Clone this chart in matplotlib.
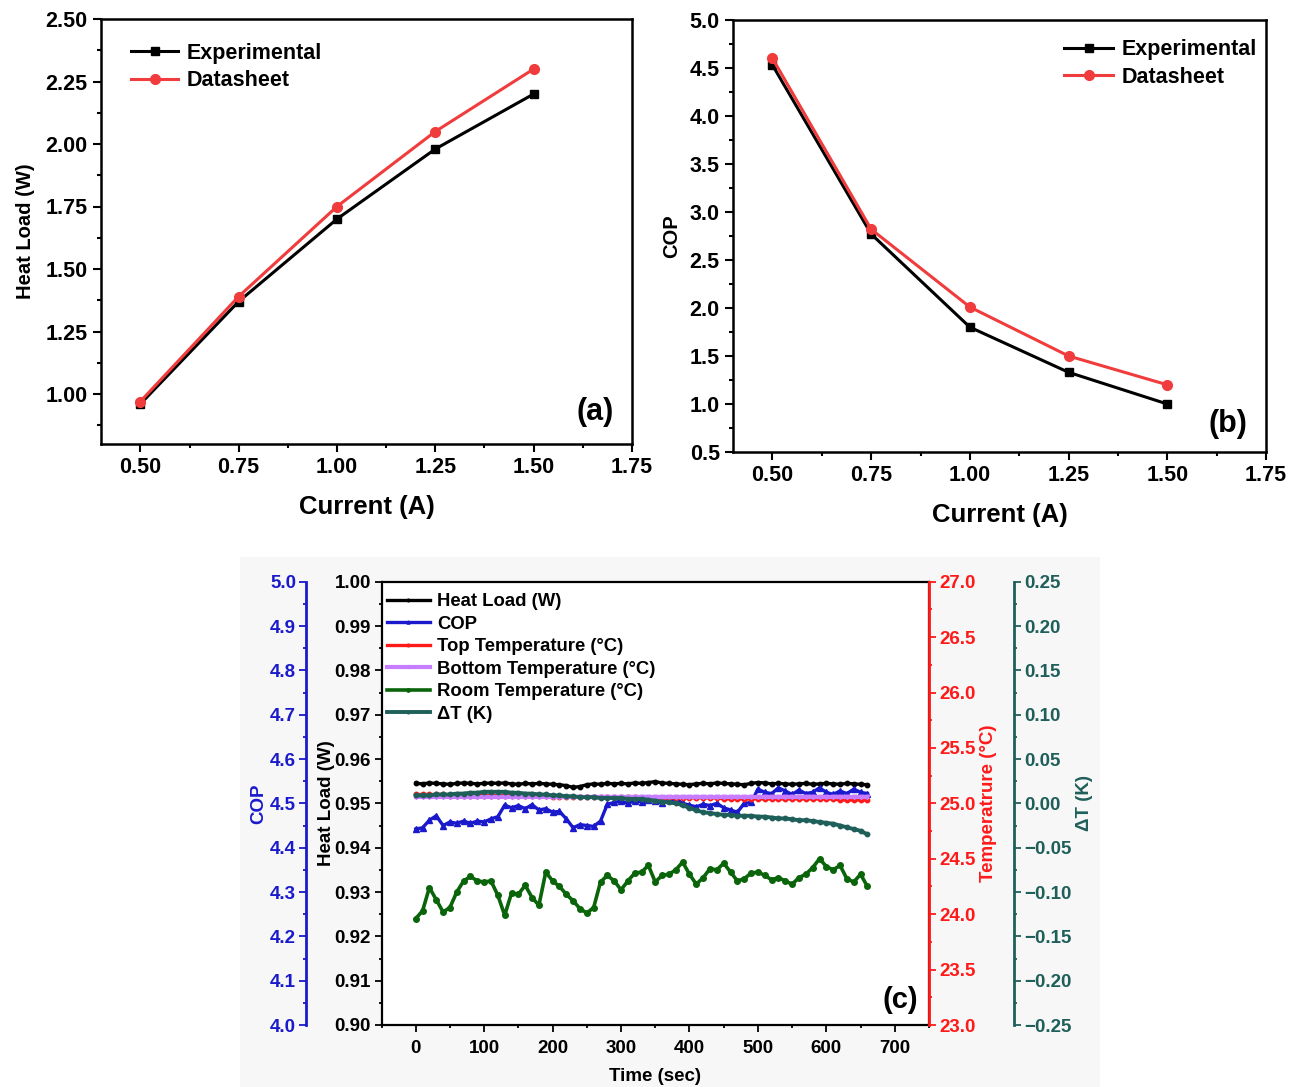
import numpy as np
import matplotlib.pyplot as plt
from matplotlib.ticker import MultipleLocator
from matplotlib.patches import Rectangle

plt.rcParams['font.family'] = ['Liberation Sans', 'DejaVu Sans']
plt.rcParams['font.weight'] = 'bold'
plt.rcParams['axes.labelweight'] = 'bold'

# ---- panel (a)/(b) data ----
current = [0.50, 0.75, 1.00, 1.25, 1.50]
heat_exp = [0.96, 1.37, 1.70, 1.98, 2.20]
heat_ds = [0.97, 1.39, 1.75, 2.05, 2.30]
cop_exp = [4.53, 2.77, 1.80, 1.33, 1.00]
cop_ds = [4.60, 2.82, 2.01, 1.50, 1.20]

# ---- panel (c) data, one sample every 10 s ----
time_s = [0, 10, 20, 30, 40, 50, 60, 70, 80, 90,
          100, 110, 120, 130, 140, 150, 160, 170, 180, 190,
          200, 210, 220, 230, 240, 250, 260, 270, 280, 290,
          300, 310, 320, 330, 340, 350, 360, 370, 380, 390,
          400, 410, 420, 430, 440, 450, 460, 470, 480, 490,
          500, 510, 520, 530, 540, 550, 560, 570, 580, 590,
          600, 610, 620, 630, 640, 650, 660]
heat_load = [0.9545, 0.9544, 0.9546, 0.9545, 0.9544, 0.9543, 0.9545, 0.9546, 0.9545, 0.9544,
             0.9545, 0.9546, 0.9545, 0.9546, 0.9544, 0.9543, 0.9545, 0.9544, 0.9545, 0.9544,
             0.9543, 0.9542, 0.9540, 0.9536, 0.9538, 0.9542, 0.9544, 0.9543, 0.9545, 0.9544,
             0.9545, 0.9544, 0.9546, 0.9545, 0.9547, 0.9549, 0.9546, 0.9545, 0.9544, 0.9543,
             0.9542, 0.9544, 0.9545, 0.9544, 0.9546, 0.9545, 0.9544, 0.9543, 0.9542, 0.9545,
             0.9547, 0.9546, 0.9544, 0.9545, 0.9544, 0.9543, 0.9544, 0.9545, 0.9543, 0.9544,
             0.9545, 0.9544, 0.9543, 0.9545, 0.9544, 0.9543, 0.9542]
cop = [4.442, 4.445, 4.462, 4.472, 4.450, 4.458, 4.455, 4.460, 4.455, 4.460,
       4.458, 4.465, 4.470, 4.496, 4.490, 4.495, 4.488, 4.497, 4.485, 4.488,
       4.480, 4.482, 4.465, 4.445, 4.452, 4.450, 4.448, 4.460, 4.498, 4.502,
       4.505, 4.500, 4.506, 4.503, 4.508, 4.505, 4.500, 4.508, 4.510, 4.500,
       4.496, 4.492, 4.498, 4.495, 4.500, 4.490, 4.485, 4.480, 4.500, 4.502,
       4.532, 4.525, 4.522, 4.535, 4.528, 4.520, 4.530, 4.522, 4.525, 4.535,
       4.525, 4.520, 4.528, 4.522, 4.532, 4.525, 4.522]
top_temp = [25.08, 25.08, 25.08, 25.08, 25.08, 25.07, 25.07, 25.07, 25.07, 25.07,
            25.07, 25.07, 25.07, 25.07, 25.07, 25.07, 25.07, 25.07, 25.07, 25.07,
            25.06, 25.06, 25.06, 25.06, 25.06, 25.06, 25.06, 25.06, 25.06, 25.06,
            25.06, 25.06, 25.06, 25.05, 25.05, 25.05, 25.05, 25.05, 25.05, 25.05,
            25.05, 25.05, 25.05, 25.05, 25.05, 25.04, 25.04, 25.04, 25.04, 25.04,
            25.04, 25.04, 25.04, 25.04, 25.04, 25.04, 25.04, 25.04, 25.04, 25.04,
            25.04, 25.04, 25.03, 25.03, 25.03, 25.03, 25.03]
bottom_temp = [25.06, 25.06, 25.06, 25.06, 25.06, 25.06, 25.06, 25.06, 25.06, 25.06,
               25.06, 25.06, 25.06, 25.06, 25.06, 25.06, 25.06, 25.06, 25.06, 25.06,
               25.06, 25.06, 25.06, 25.06, 25.06, 25.06, 25.06, 25.06, 25.06, 25.06,
               25.06, 25.06, 25.06, 25.06, 25.06, 25.06, 25.06, 25.06, 25.06, 25.06,
               25.06, 25.06, 25.06, 25.06, 25.06, 25.06, 25.06, 25.06, 25.06, 25.06,
               25.06, 25.06, 25.06, 25.06, 25.06, 25.06, 25.06, 25.06, 25.06, 25.06,
               25.06, 25.06, 25.06, 25.06, 25.06, 25.06, 25.06]
room_temp = [23.96, 24.03, 24.24, 24.13, 24.02, 24.06, 24.20, 24.30, 24.34, 24.30,
             24.29, 24.30, 24.17, 23.99, 24.19, 24.18, 24.26, 24.15, 24.08, 24.38,
             24.30, 24.25, 24.18, 24.12, 24.05, 24.01, 24.06, 24.29, 24.35, 24.30,
             24.22, 24.30, 24.37, 24.38, 24.44, 24.29, 24.35, 24.36, 24.40, 24.47,
             24.36, 24.27, 24.33, 24.41, 24.40, 24.46, 24.38, 24.30, 24.32, 24.37,
             24.38, 24.35, 24.31, 24.33, 24.30, 24.27, 24.33, 24.36, 24.42, 24.50,
             24.43, 24.40, 24.44, 24.32, 24.29, 24.36, 24.25]
delta_t = [0.009, 0.009, 0.009, 0.010, 0.010, 0.010, 0.011, 0.011, 0.012, 0.012,
           0.013, 0.013, 0.013, 0.013, 0.012, 0.012, 0.011, 0.011, 0.010, 0.010,
           0.009, 0.009, 0.008, 0.008, 0.007, 0.007, 0.007, 0.006, 0.006, 0.006,
           0.006, 0.005, 0.005, 0.005, 0.004, 0.003, 0.002, 0.001, 0.000, -0.002,
           -0.005, -0.008, -0.010, -0.011, -0.012, -0.013, -0.013, -0.014, -0.014, -0.014,
           -0.015, -0.015, -0.016, -0.017, -0.017, -0.018, -0.019, -0.019, -0.020, -0.021,
           -0.022, -0.023, -0.025, -0.027, -0.029, -0.031, -0.035]

W, H = 1298, 1087
fig = plt.figure(figsize=(W / 100, H / 100), dpi=100)
fig.patches.append(Rectangle((240 / W, 0), 860 / W, 530 / H, transform=fig.transFigure,
                             facecolor='#f7f7f7', edgecolor='none', zorder=-5))


def box(l, t, r, b):
    return [l / W, 1 - b / H, (r - l) / W, (b - t) / H]


def style_ax(ax, tick_fs):
    ax.tick_params(which='both', direction='out', top=False, right=False,
                   labelsize=tick_fs, width=1.5)
    ax.tick_params(which='major', length=6)
    ax.tick_params(which='minor', length=3)
    for sp in ax.spines.values():
        sp.set_linewidth(1.8)


# =========================
# (a) heat load vs current
# =========================
ax_a = fig.add_axes(box(101, 19, 632, 444))
ax_a.plot(current, heat_exp, '-s', color='black', lw=2.2, ms=6, label='Experimental')
ax_a.plot(current, heat_ds, '-o', color='#f03c3c', lw=2.2, ms=7, label='Datasheet')
ax_a.set_xlim(0.4, 1.75)
ax_a.set_ylim(0.8, 2.5)
ax_a.xaxis.set_major_locator(MultipleLocator(0.25))
ax_a.xaxis.set_minor_locator(MultipleLocator(0.125))
ax_a.yaxis.set_major_locator(MultipleLocator(0.25))
ax_a.yaxis.set_minor_locator(MultipleLocator(0.125))
ax_a.xaxis.set_major_formatter('{x:.2f}')
ax_a.yaxis.set_major_formatter('{x:.2f}')
style_ax(ax_a, 15.5)
ax_a.set_xlabel('Current (A)', fontsize=18.5, labelpad=12)
ax_a.set_ylabel('Heat Load (W)', fontsize=14.5, labelpad=8)
ax_a.legend(loc='upper left', bbox_to_anchor=(0.02, 0.99), frameon=False,
            fontsize=15.5, handlelength=2.2, handletextpad=0.4, labelspacing=0.3)
ax_a.text(0.965, 0.04, '(a)', transform=ax_a.transAxes, ha='right', va='bottom',
          fontsize=22, fontweight='bold',
          bbox=dict(facecolor='white', edgecolor='none', pad=2))

# =========================
# (b) COP vs current
# =========================
ax_b = fig.add_axes(box(733, 20, 1266, 452))
ax_b.plot(current, cop_exp, '-s', color='black', lw=2.2, ms=6, label='Experimental')
ax_b.plot(current, cop_ds, '-o', color='#f03c3c', lw=2.2, ms=7, label='Datasheet')
ax_b.set_xlim(0.4, 1.75)
ax_b.set_ylim(0.5, 5.0)
ax_b.xaxis.set_major_locator(MultipleLocator(0.25))
ax_b.xaxis.set_minor_locator(MultipleLocator(0.125))
ax_b.yaxis.set_major_locator(MultipleLocator(0.5))
ax_b.yaxis.set_minor_locator(MultipleLocator(0.25))
ax_b.xaxis.set_major_formatter('{x:.2f}')
ax_b.yaxis.set_major_formatter('{x:.1f}')
style_ax(ax_b, 15.5)
ax_b.set_xlabel('Current (A)', fontsize=18.5, labelpad=12)
ax_b.set_ylabel('COP', fontsize=14.5, labelpad=6)
ax_b.legend(loc='upper right', bbox_to_anchor=(1.02, 1.0), frameon=False,
            fontsize=15.5, handlelength=2.3, handletextpad=0.4, labelspacing=0.3)
ax_b.text(0.965, 0.03, '(b)', transform=ax_b.transAxes, ha='right', va='bottom',
          fontsize=22, fontweight='bold',
          bbox=dict(facecolor='white', edgecolor='none', pad=2))

# =========================
# (c) time series, four y axes
# =========================
c_heat, c_cop, c_top, c_bot = 'black', '#1a1acc', '#ff1a1a', '#c77dff'
c_room, c_dt = '#0a640a', '#1f5f5a'

ax_c = fig.add_axes(box(381.5, 581.7, 929, 1025))
ax_c.set_facecolor('white')
ax_cop = ax_c.twinx()
ax_tmp = ax_c.twinx()
ax_dt = ax_c.twinx()

ax_cop.yaxis.set_ticks_position('left')
ax_cop.yaxis.set_label_position('left')
ax_cop.spines['left'].set_position(('axes', -0.137))
ax_dt.spines['right'].set_position(('axes', 1.155))
for a in (ax_cop, ax_tmp, ax_dt):
    for s in ('top', 'bottom'):
        a.spines[s].set_visible(False)
ax_cop.spines['right'].set_visible(False)
ax_tmp.spines['left'].set_visible(False)
ax_dt.spines['left'].set_visible(False)

mk = dict(marker='o', ms=3.2, lw=2.4)
l1, = ax_c.plot(time_s, heat_load, color=c_heat, label='Heat Load (W)', **mk)
l2, = ax_cop.plot(time_s, cop, color=c_cop, label='COP', **dict(mk, marker='^', ms=3.8))
l3, = ax_tmp.plot(time_s, top_temp, color=c_top, label='Top Temperature (°C)', **mk)
l4, = ax_tmp.plot(time_s, bottom_temp, color=c_bot, label='Bottom Temperature (°C)',
                  **dict(mk, marker='v', lw=3))
l5, = ax_tmp.plot(time_s, room_temp, color=c_room, label='Room Temperature (°C)',
                  **dict(mk, ms=4, lw=2.6))
l6, = ax_dt.plot(time_s, delta_t, color=c_dt, label='ΔT (K)', **dict(mk, lw=2.8))

ax_c.set_xlim(-50, 750)
ax_c.set_ylim(0.90, 1.00)
ax_cop.set_ylim(4.0, 5.0)
ax_tmp.set_ylim(23.0, 27.0)
ax_dt.set_ylim(-0.25, 0.25)

ax_c.xaxis.set_major_locator(MultipleLocator(100))
ax_c.xaxis.set_minor_locator(MultipleLocator(50))
ax_c.yaxis.set_major_locator(MultipleLocator(0.01))
ax_c.yaxis.set_minor_locator(MultipleLocator(0.005))
ax_c.yaxis.set_major_formatter('{x:.2f}')
ax_cop.yaxis.set_major_locator(MultipleLocator(0.1))
ax_cop.yaxis.set_minor_locator(MultipleLocator(0.05))
ax_cop.yaxis.set_major_formatter('{x:.1f}')
ax_tmp.yaxis.set_major_locator(MultipleLocator(0.5))
ax_tmp.yaxis.set_minor_locator(MultipleLocator(0.25))
ax_tmp.yaxis.set_major_formatter('{x:.1f}')
ax_dt.yaxis.set_major_locator(MultipleLocator(0.05))
ax_dt.yaxis.set_minor_locator(MultipleLocator(0.025))

for a in (ax_c, ax_cop, ax_tmp, ax_dt):
    a.tick_params(which='both', direction='out', labelsize=13.5, width=1.3, pad=2.5)
    a.tick_params(which='major', length=5)
    a.tick_params(which='minor', length=2.5)
ax_c.tick_params(top=False, right=False, which='both')
ax_c.tick_params(axis='x', pad=6)
for s in ax_c.spines.values():
    s.set_linewidth(1.6)

ax_cop.spines['left'].set_color(c_cop)
ax_cop.spines['left'].set_linewidth(2)
ax_cop.tick_params(axis='y', which='both', colors=c_cop)
ax_tmp.spines['right'].set_color(c_top)
ax_tmp.spines['right'].set_linewidth(2)
ax_tmp.tick_params(axis='y', which='both', colors=c_top)
ax_dt.spines['right'].set_color(c_dt)
ax_dt.spines['right'].set_linewidth(2)
ax_dt.tick_params(axis='y', which='both', colors=c_dt)

ax_c.set_xlabel('Time (sec)', fontsize=13.5, labelpad=8)
ax_c.set_ylabel('Heat Load (W)', fontsize=13.5, labelpad=0)
ax_cop.set_ylabel('COP', fontsize=13.5, color=c_cop, labelpad=2)
ax_tmp.set_ylabel('Temperatrure (°C)', fontsize=13.5, color=c_top, labelpad=3)
ax_dt.set_ylabel('ΔT (K)', fontsize=13.5, color=c_dt, labelpad=3)

ax_dt.legend(handles=[l1, l2, l3, l4, l5, l6], loc='upper left',
             bbox_to_anchor=(-0.02, 1.012), frameon=False, fontsize=13.3,
             handlelength=2.3, handletextpad=0.4, labelspacing=0.3,
             markerscale=0.6)
ax_dt.text(0.98, 0.025, '(c)', transform=ax_c.transAxes, ha='right', va='bottom',
           fontsize=21, fontweight='bold',
           bbox=dict(facecolor='white', edgecolor='none', pad=2))

plt.savefig('out.png', dpi=100)
